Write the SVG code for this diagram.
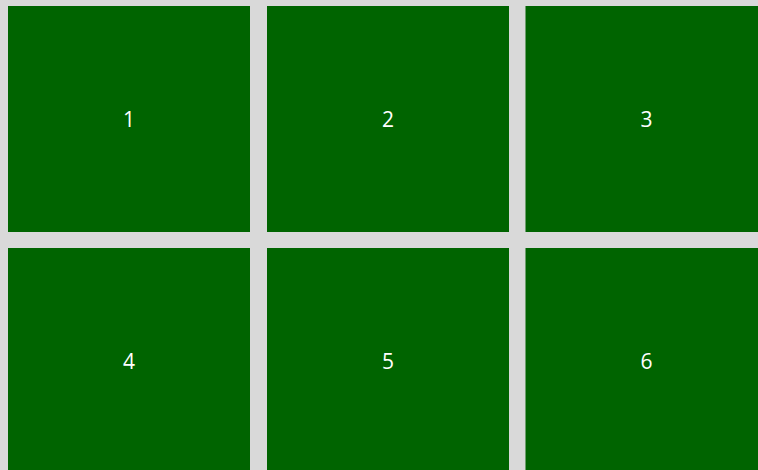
<svg xmlns="http://www.w3.org/2000/svg" width="758" height="470" viewBox="0 0 758 470">
<style>
.b{fill:#006400}
.t{fill:#ffffff;font-family:"Open Sans","Noto Sans","Liberation Sans",sans-serif;font-size:21px;text-anchor:middle;dominant-baseline:central}
</style>
<rect x="0" y="0" width="758" height="470" fill="#d9d9d9"/>
<g id="node1"><rect class="b" x="8" y="6" width="242" height="226"/><text class="t" x="129" y="119">1</text></g>
<g id="node2"><rect class="b" x="267" y="6" width="242" height="226"/><text class="t" x="388" y="119">2</text></g>
<g id="node3"><rect class="b" x="525.5" y="6" width="242" height="226"/><text class="t" x="646.5" y="119">3</text></g>
<g id="node4"><rect class="b" x="8" y="248" width="242" height="226"/><text class="t" x="129" y="361">4</text></g>
<g id="node5"><rect class="b" x="267" y="248" width="242" height="226"/><text class="t" x="388" y="361">5</text></g>
<g id="node6"><rect class="b" x="525.5" y="248" width="242" height="226"/><text class="t" x="646.5" y="361">6</text></g>
<g id="connectors"></g>
</svg>
